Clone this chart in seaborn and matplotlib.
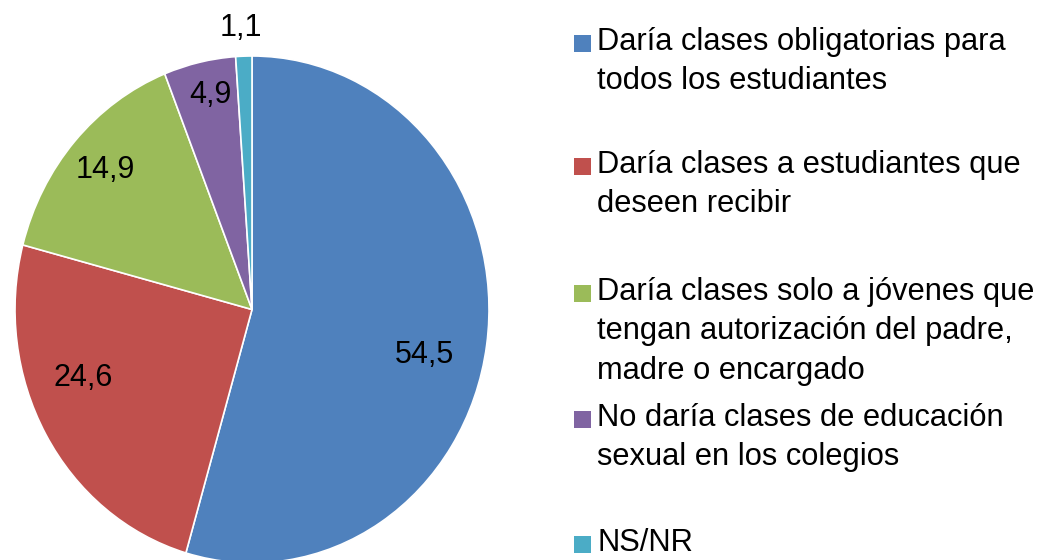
import matplotlib
matplotlib.use("Agg")
import matplotlib.pyplot as plt
import seaborn as sns
import numpy as np
from matplotlib.patches import Rectangle

# ---- data ----
categories = [
    "Daría clases obligatorias para\ntodos los estudiantes",
    "Daría clases a estudiantes que\ndeseen recibir",
    "Daría clases solo a jóvenes que\ntengan autorización del padre,\nmadre o encargado",
    "No daría clases de educación\nsexual en los colegios",
    "NS/NR",
]
values = [54.5, 24.6, 14.9, 4.9, 1.1]
value_labels = ["54,5", "24,6", "14,9", "4,9", "1,1"]
colors_hex = ["#4F81BD", "#C0504D", "#9BBB59", "#8064A2", "#4BACC6"]

# ---- layout (pixels / offsets) ----
W, H = 1038, 560
label_r = [0.75, 0.76, 0.83, 0.865, 1.11]
label_dang = [-5.7, -8.8, 0.0, -1.0, 0.4]
legend_baselines = [52, 175, 302, 428, 553]
legend_sq_x, legend_text_x, sq = 574, 597, 17
top_to_baseline = 25

sns.set_theme(style="white")
plt.rcParams["font.family"] = ["Liberation Sans", "DejaVu Sans"]

fig = plt.figure(figsize=(W / 100, H / 100), dpi=100)
fig.patch.set_facecolor("white")
ax = fig.add_axes([15 / W, (H - 563) / H, 474 / W, 507 / H])
palette = sns.color_palette(colors_hex)
wedges, _ = ax.pie(values, colors=palette, startangle=90, counterclock=False,
                   wedgeprops=dict(edgecolor="white", linewidth=1.2))
ax.set_aspect("auto")
ax.set_xlim(-1, 1)
ax.set_ylim(-1, 1)
ax.axis("off")

for w, txt, r, da in zip(wedges, value_labels, label_r, label_dang):
    mid = np.deg2rad((w.theta1 + w.theta2) / 2 + da)
    ax.text(r * np.cos(mid), r * np.sin(mid), txt, ha="center", va="center",
            fontsize=22, color="black", clip_on=False)

for cat, col, base in zip(categories, palette, legend_baselines):
    fig.add_artist(Rectangle((legend_sq_x / W, (H - base) / H), sq / W, sq / H,
                             transform=fig.transFigure, facecolor=col, edgecolor="none"))
    fig.text(legend_text_x / W, (H - base + top_to_baseline) / H, cat, ha="left", va="top",
             fontsize=22.2, color="black", linespacing=1.41)

fig.savefig("out.png", dpi=100, facecolor="white")
